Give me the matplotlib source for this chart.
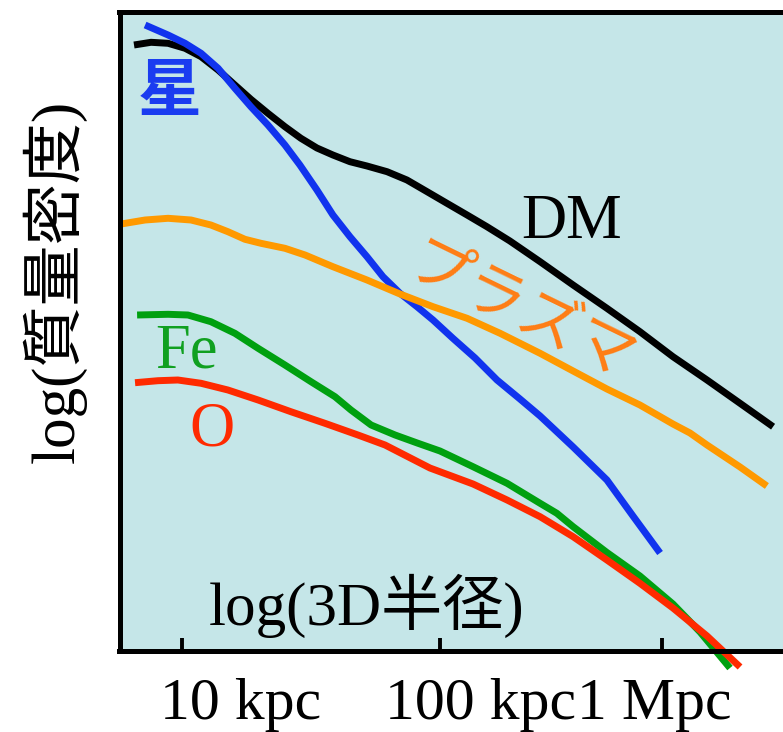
import matplotlib
matplotlib.use("Agg")
import matplotlib.pyplot as plt

# x: log radius (schematic units, 10 kpc = 1, 100 kpc = 2), y: log density (arbitrary units)
dm_x = [0.814, 0.880, 0.946, 1.012, 1.074, 1.140, 1.205, 1.267, 1.333, 1.399, 1.461, 1.523, 1.585, 1.651,
        1.717, 1.795, 1.872, 1.950, 2.027, 2.105, 2.182, 2.271, 2.388, 2.516, 2.647, 2.775, 2.903, 3.035,
        3.163, 3.291]
dm_y = [6.055, 6.082, 6.072, 6.022, 5.938, 5.805, 5.655, 5.512, 5.372, 5.238, 5.122, 5.025, 4.955, 4.888,
        4.845, 4.788, 4.705, 4.588, 4.472, 4.355, 4.238, 4.095, 3.888, 3.655, 3.422, 3.188, 2.938, 2.705,
        2.472, 2.238]

star_x = [0.857, 0.946, 1.012, 1.074, 1.140, 1.205, 1.267, 1.333, 1.399, 1.457, 1.523, 1.585, 1.651, 1.717,
          1.779, 1.845, 1.911, 1.973, 2.050, 2.136, 2.221, 2.310, 2.388, 2.516, 2.647, 2.748, 2.853]
star_y = [6.255, 6.155, 6.072, 5.972, 5.822, 5.622, 5.438, 5.255, 5.055, 4.855, 4.605, 4.355, 4.138, 3.938,
          3.738, 3.572, 3.438, 3.305, 3.122, 2.925, 2.705, 2.515, 2.345, 2.035, 1.705, 1.345, 0.975]

gas_x = [0.764, 0.857, 0.946, 1.035, 1.112, 1.178, 1.244, 1.306, 1.399, 1.477, 1.585, 1.717, 1.845, 1.973,
         2.105, 2.233, 2.388, 2.516, 2.647, 2.775, 2.903, 2.969, 3.035, 3.163, 3.267]
gas_y = [4.265, 4.305, 4.322, 4.305, 4.255, 4.188, 4.112, 4.072, 4.022, 3.955, 3.838, 3.705, 3.565, 3.438,
         3.322, 3.172, 2.972, 2.795, 2.615, 2.455, 2.265, 2.175, 2.055, 1.835, 1.645]

fe_x = [0.826, 0.946, 1.023, 1.112, 1.205, 1.295, 1.399, 1.500, 1.593, 1.655, 1.733, 1.826, 1.915, 2.000,
        2.128, 2.260, 2.388, 2.453, 2.516, 2.647, 2.775, 2.903, 3.008, 3.124]
fe_y = [3.355, 3.362, 3.355, 3.288, 3.172, 3.022, 2.855, 2.688, 2.538, 2.405, 2.255, 2.155, 2.072, 1.995,
        1.838, 1.672, 1.472, 1.372, 1.238, 0.980, 0.745, 0.465, 0.185, -0.175]

o_x = [0.818, 0.907, 0.984, 1.074, 1.178, 1.295, 1.422, 1.554, 1.682, 1.787, 1.961, 2.128, 2.260, 2.388,
       2.516, 2.647, 2.775, 2.903, 3.035, 3.163]
o_y = [2.678, 2.698, 2.705, 2.672, 2.605, 2.505, 2.388, 2.272, 2.155, 2.055, 1.825, 1.665, 1.505, 1.338,
       1.138, 0.905, 0.672, 0.425, 0.145, -0.165]

tick_pos = [1.0, 2.0, 2.86]
tick_text = ["10 kpc", "100 kpc", "1 Mpc"]
tick_text_x = [0.915, 1.787, 2.531]

SERIF = ["Liberation Serif", "Noto Sans CJK JP", "DejaVu Serif"]
CJK = ["Noto Sans CJK JP", "DejaVu Sans"]

fig = plt.figure(figsize=(7.83, 7.32), dpi=100)
left = 119.5 / 783
bottom = (732 - 650.5) / 732
height = (650.5 - 11.5) / 732
ax = fig.add_axes([left, bottom, 1.0 - left, height])
ax.set_facecolor("#c5e6e8")
ax.set_xlim(0.7578, 3.3295)
ax.set_ylim(0, 6.39)

lw = 5.0
kw = dict(lw=lw, solid_capstyle="butt", solid_joinstyle="round")
ax.plot(dm_x, dm_y, color="#000000", **kw)
ax.plot(star_x, star_y, color="#1133ee", **kw)
ax.plot(gas_x, gas_y, color="#ff9900", **kw)
ax.plot(fe_x, fe_y, color="#00a010", clip_on=False, **kw)
ax.plot(o_x, o_y, color="#ff2a00", clip_on=False, **kw)

for s in ["left", "top", "bottom"]:
    ax.spines[s].set_linewidth(3.6)
ax.spines["right"].set_visible(False)
ax.set_yticks([])
ax.set_xticks(tick_pos)
ax.set_xticklabels([""] * len(tick_pos))
ax.tick_params(axis="x", direction="in", length=9.5, width=2.8)

for tx, tt in zip(tick_text_x, tick_text):
    ax.text(tx, -0.68, tt, ha="left", va="baseline", fontsize=43,
            family=SERIF, clip_on=False)

ax.text(1.717, 0.255, "log(3D半径)", ha="center", va="baseline",
        fontsize=44, family=SERIF)
fig.text(0.070, 0.615, "log(質量密度)", rotation=90, ha="center", va="center",
         fontsize=44, family=SERIF)

ax.text(0.953, 5.585, "星", ha="center", va="center", fontsize=46,
        family=CJK, color="#1a3cf0", fontweight="bold")
ax.text(2.512, 4.125, "DM", ha="center", va="baseline", fontsize=45,
        family=SERIF, color="black")
ax.text(2.314, 3.375, "プラズマ", ha="center", va="center", fontsize=44,
        family=CJK, color="#ff7d14", rotation=-26, rotation_mode="anchor")
ax.text(1.019, 2.835, "Fe", ha="center", va="baseline", fontsize=45,
        family=SERIF, color="#10a020")
ax.text(1.116, 2.05, "O", ha="center", va="baseline", fontsize=45,
        family=SERIF, color="#ff2a00")

fig.savefig("out.png", dpi=100, facecolor="white")
